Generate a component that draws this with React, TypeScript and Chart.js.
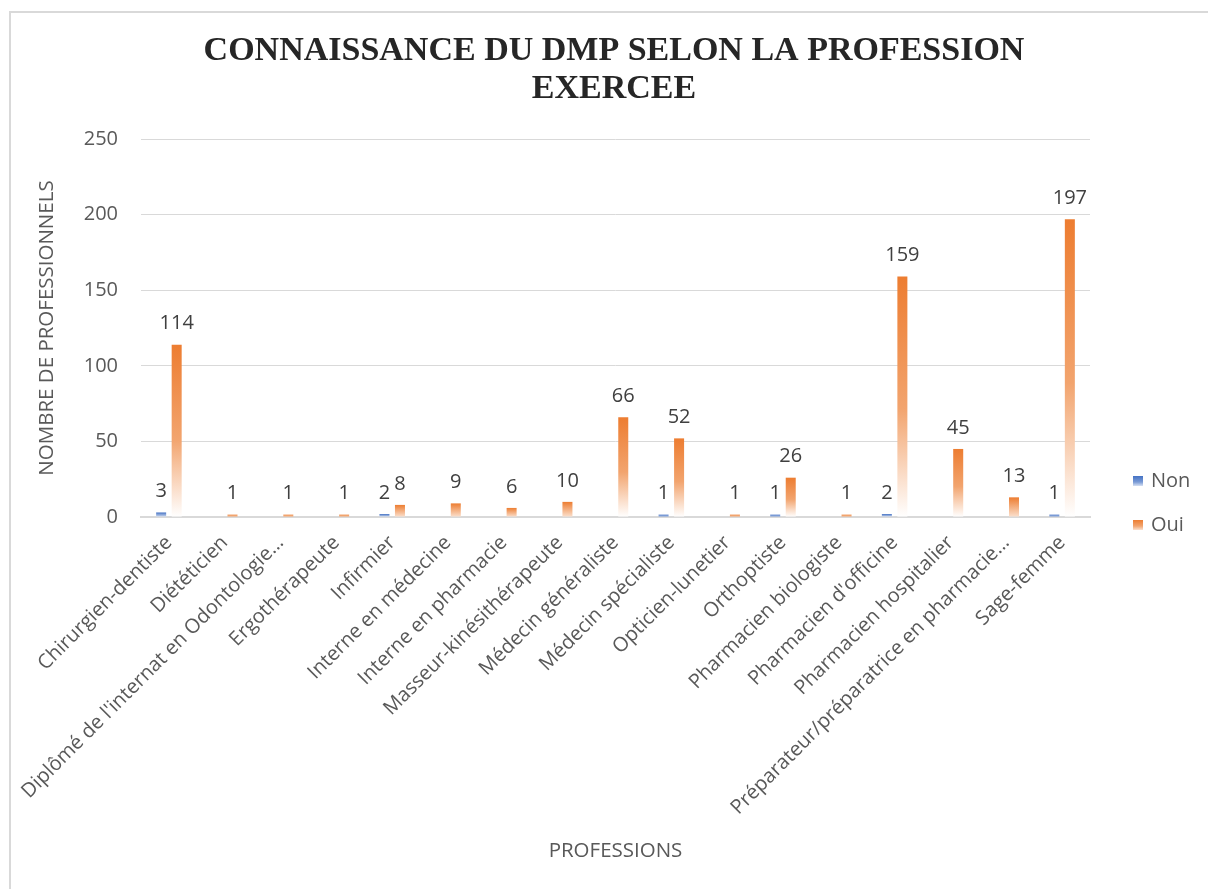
import React, { useEffect, useRef } from "react";
import { Chart, registerables } from "chart.js";

Chart.register(...registerables);

const TITLE_LINES = ["CONNAISSANCE DU DMP SELON LA PROFESSION", "EXERCEE"];
const Y_TITLE = "NOMBRE DE PROFESSIONNELS";
const X_TITLE = "PROFESSIONS";

const categories = [
  "Chirurgien-dentiste",
  "Diététicien",
  "Diplômé de l'internat en Odontologie…",
  "Ergothérapeute",
  "Infirmier",
  "Interne en médecine",
  "Interne en pharmacie",
  "Masseur-kinésithérapeute",
  "Médecin généraliste",
  "Médecin spécialiste",
  "Opticien-lunetier",
  "Orthoptiste",
  "Pharmacien biologiste",
  "Pharmacien d'officine",
  "Pharmacien hospitalier",
  "Préparateur/préparatrice en pharmacie…",
  "Sage-femme",
];

const nonValues: (number | null)[] = [3, null, null, null, 2, null, null, null, null, 1, null, 1, null, 2, null, null, 1];
const ouiValues: (number | null)[] = [114, 1, 1, 1, 8, 9, 6, 10, 66, 52, 1, 26, 1, 159, 45, 13, 197];

const seriesNames = ["Non", "Oui"];
const seriesColors = ["#4472C4", "#ED7D31"];
const seriesMid = ["#7A9BD6", "#F2A46E"];
const seriesLight = ["#D6E0F2", "#FBE1CF"];

const yTicks = { min: 0, max: 250, step: 50 };

const LABEL_FONT = "'Open Sans', 'Noto Sans', sans-serif";

function makeGradient(ctx: any, idx: number) {
  const chart = ctx.chart;
  if (!chart.chartArea) return seriesColors[idx];
  const v = ctx.raw;
  if (v == null) return seriesColors[idx];
  const ys = chart.scales.y;
  const top = ys.getPixelForValue(v);
  const bottom = ys.getPixelForValue(0);
  const h = bottom - top;
  if (h < 3) return seriesMid[idx];
  const g = chart.ctx.createLinearGradient(0, top, 0, bottom);
  if (h < 20) {
    g.addColorStop(0, seriesColors[idx]);
    g.addColorStop(1, seriesLight[idx]);
    return g;
  }
  g.addColorStop(0, seriesColors[idx]);
  g.addColorStop(0.55, seriesMid[idx]);
  g.addColorStop(0.85, seriesLight[idx]);
  g.addColorStop(1, "#FFFFFF");
  return g;
}

const framePlugin = {
  id: "frame",
  beforeDraw(chart: any) {
    const c = chart.ctx;
    c.save();
    c.fillStyle = "#FFFFFF";
    c.fillRect(0, 0, chart.width, chart.height);
    c.fillStyle = "#D9D9D9";
    c.fillRect(9, 11, chart.width - 9, 2);
    c.fillRect(9, 11, 2, chart.height - 11);
    c.restore();
  },
  afterDraw(chart: any) {
    const c = chart.ctx;
    c.save();
    // title
    c.fillStyle = "#262626";
    c.font = "bold 34px 'Liberation Serif', 'Times New Roman', serif";
    c.textAlign = "center";
    c.textBaseline = "middle";
    TITLE_LINES.forEach((t, i) => c.fillText(t, 614, 51 + i * 38));
    // legend
    c.font = `20px ${LABEL_FONT}`;
    c.textAlign = "left";
    seriesNames.forEach((name, i) => {
      const y = 481 + i * 44;
      const g = c.createLinearGradient(0, y - 5, 0, y + 5);
      g.addColorStop(0, seriesColors[i]);
      g.addColorStop(0.6, seriesMid[i]);
      g.addColorStop(1, seriesLight[i]);
      c.fillStyle = g;
      c.fillRect(1133, y - 5, 10, 10);
      c.fillStyle = "#595959";
      c.fillText(name, 1151, y);
    });
    c.restore();
  },
};

const valueLabelPlugin = {
  id: "valueLabels",
  afterDatasetsDraw(chart: any) {
    const c = chart.ctx;
    c.save();
    c.font = `20px ${LABEL_FONT}`;
    c.fillStyle = "#404040";
    c.textAlign = "center";
    c.textBaseline = "bottom";
    chart.data.datasets.forEach((ds: any, di: number) => {
      const meta = chart.getDatasetMeta(di);
      meta.data.forEach((el: any, i: number) => {
        const v = ds.data[i];
        if (v == null) return;
        c.fillText(String(v), el.x, el.y - 11);
      });
    });
    c.restore();
  },
};

export default function App() {
  const ref = useRef<HTMLCanvasElement | null>(null);
  useEffect(() => {
    if (!ref.current) return;
    const chart = new Chart(ref.current, {
      type: "bar",
      data: {
        labels: categories,
        datasets: [
          {
            label: seriesNames[0],
            data: nonValues,
            backgroundColor: (ctx: any) => makeGradient(ctx, 0),
            categoryPercentage: 0.556,
            barPercentage: 0.645,
            minBarLength: 2.5,
          },
          {
            label: seriesNames[1],
            data: ouiValues,
            backgroundColor: (ctx: any) => makeGradient(ctx, 1),
            categoryPercentage: 0.556,
            barPercentage: 0.645,
            minBarLength: 2.5,
          },
        ],
      },
      options: {
        animation: false,
        responsive: false,
        maintainAspectRatio: false,
        layout: { padding: { top: 139, right: 118, left: 0, bottom: 0 } },
        plugins: {
          legend: { display: false },
          title: { display: false },
          tooltip: { enabled: false },
        },
        scales: {
          x: {
            grid: { display: false, drawTicks: false },
            border: { display: true, color: "#D9D9D9", width: 2 },
            ticks: {
              autoSkip: false,
              maxRotation: 45,
              minRotation: 45,
              padding: 14,
              color: "#595959",
              font: { family: LABEL_FONT, size: 20 },
            },
            title: {
              display: true,
              text: X_TITLE,
              color: "#595959",
              font: { family: LABEL_FONT, size: 20.5 },
              padding: { top: 0, bottom: 26 },
            },
            afterFit(scale: any) {
              scale.height = 889 - 517;
            },
          },
          y: {
            min: yTicks.min,
            max: yTicks.max,
            grid: { color: "#D9D9D9", lineWidth: 1, drawTicks: false },
            border: { display: false },
            ticks: {
              stepSize: yTicks.step,
              padding: 23,
              color: "#595959",
              font: { family: LABEL_FONT, size: 20 },
            },
            title: {
              display: true,
              text: Y_TITLE,
              color: "#595959",
              font: { family: LABEL_FONT, size: 20.5 },
              padding: { top: 35, bottom: 0 },
            },
            afterFit(scale: any) {
              scale.width = 141;
            },
          },
        },
      },
      plugins: [framePlugin, valueLabelPlugin],
    } as any);
    return () => chart.destroy();
  }, []);
  return (
    <div style={{ position: "fixed", left: 0, top: 0, width: 1208, height: 889, background: "#fff" }}>
      <canvas ref={ref} width={1208} height={889} style={{ display: "block", width: 1208, height: 889 }} />
    </div>
  );
}
